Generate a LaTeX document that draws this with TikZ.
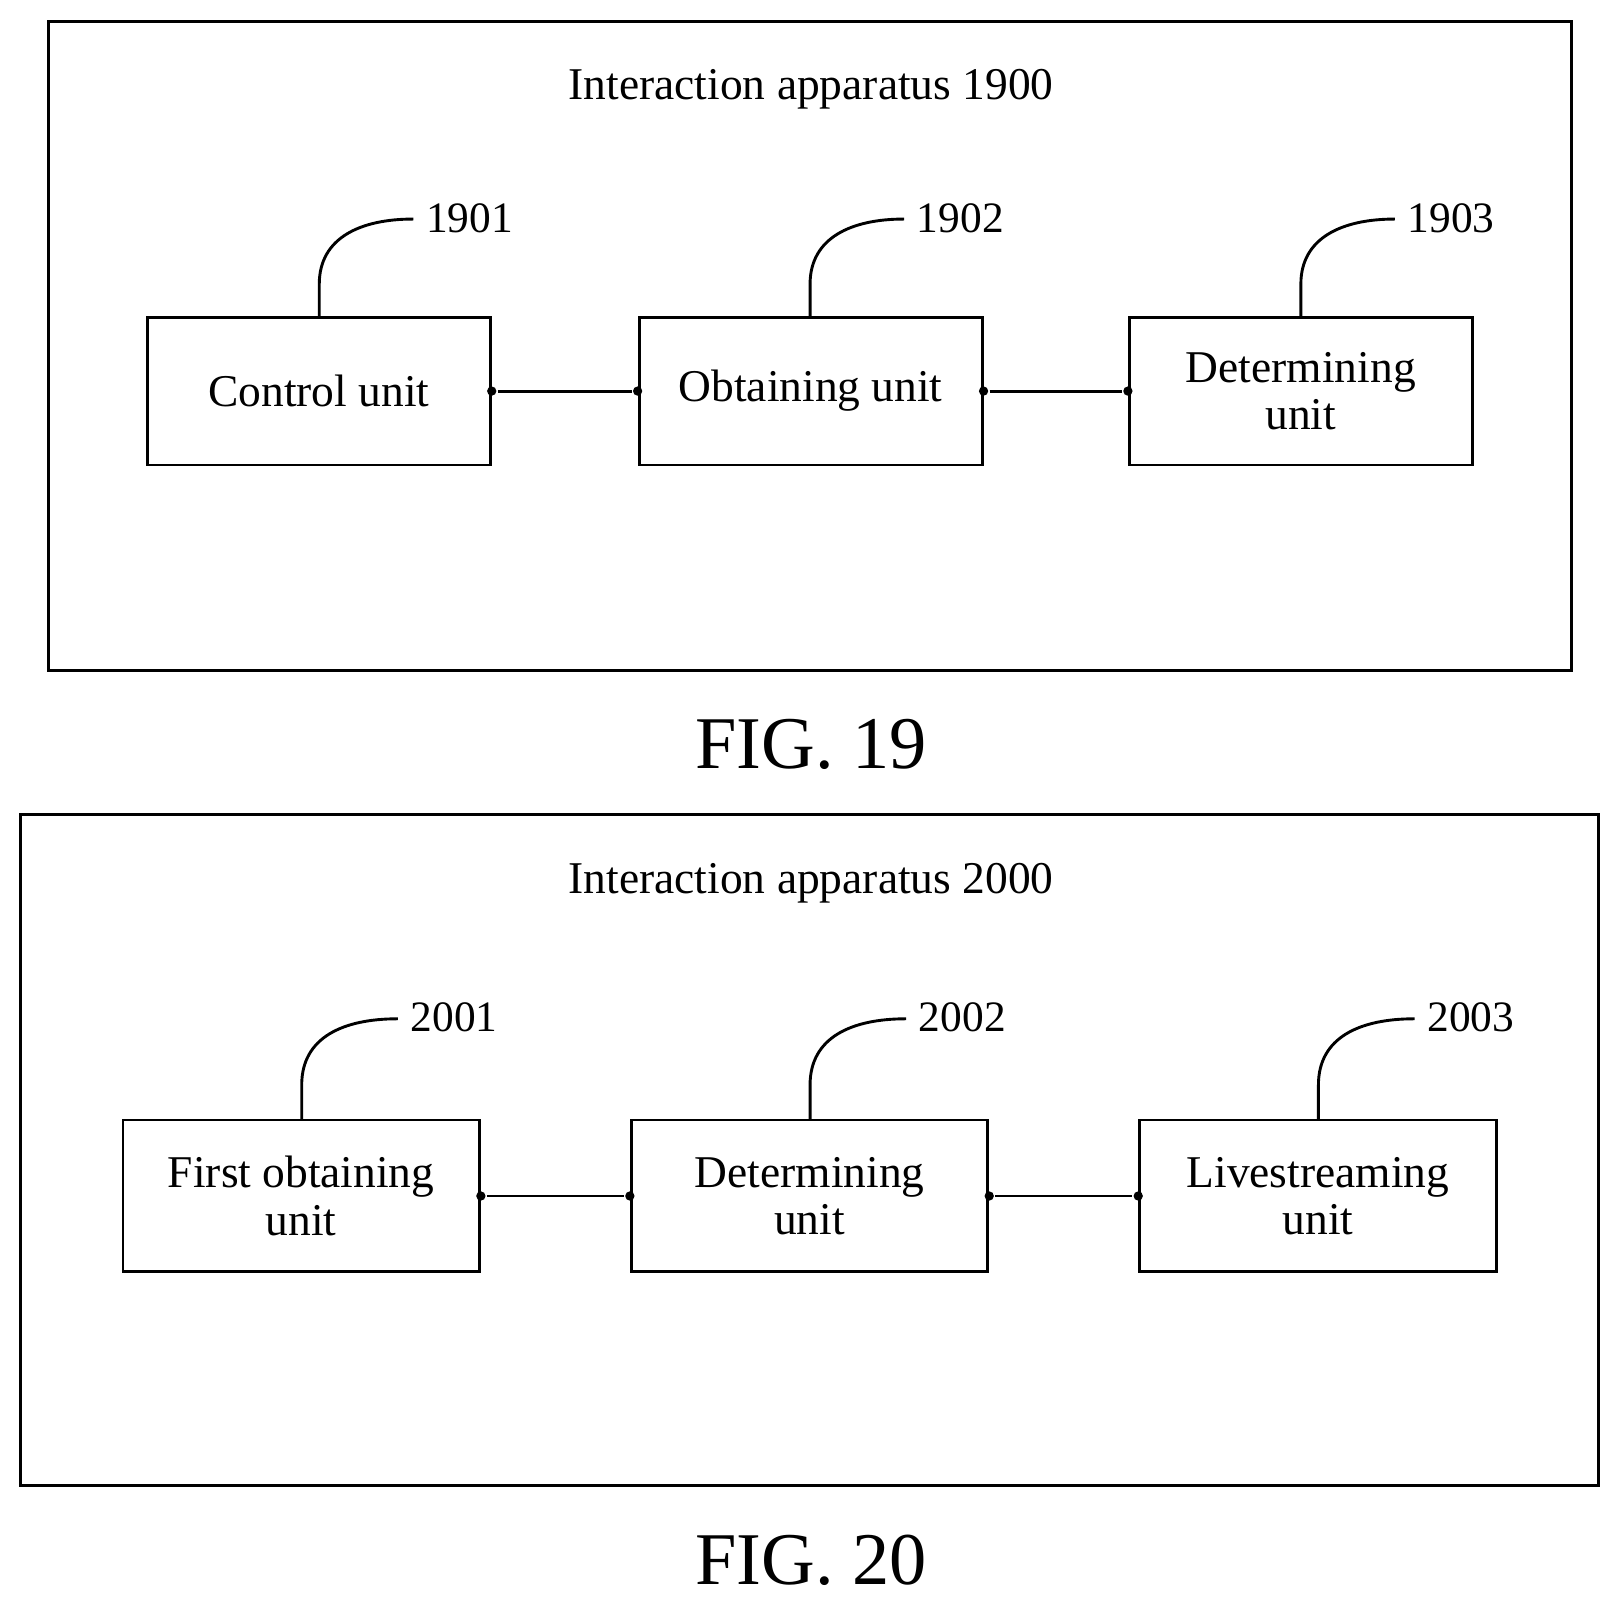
\documentclass[tikz,border=0pt]{standalone}
\usepackage{fontspec}
\setmainfont{Liberation Serif}
\begin{document}
\begin{tikzpicture}[x=0.5pt,y=-0.5pt,line width=1.4pt,
 unit/.style={draw,minimum width=166pt,minimum height=71.5pt,inner sep=0pt,align=center,font=\fontsize{22}{23}\selectfont},
 ttl/.style={font=\fontsize{22}{26}\selectfont},
 num/.style={font=\fontsize{21}{24}\selectfont,anchor=west,inner sep=1pt},
 fig/.style={font=\fontsize{36}{40}\selectfont},
 dot/.style={circle,fill,inner sep=0pt,minimum size=4.5pt}]
\useasboundingbox (0,0) rectangle (1564,1551);
% FIG 19
\node[draw,minimum width=737pt,minimum height=314pt,inner sep=0pt] (f19) at (784,335) {};
\node[ttl] (t19) at (785,86) {Interaction apparatus 1900};
\node[unit] (a1) at (308.5,378.5) {Control unit};
\node[unit] (a2) at (784.5,378.5) {Obtaining unit};
\node[unit] (a3) at (1259,378.5) {Determining\\unit};
\node[fig] (g19) at (785,720) {FIG. 19};
\foreach \n/\x/\l in {a1/309/1901,a2/784/1902,a3/1259/1903}{
  \coordinate (e\n) at (\x+91,212);
  \draw (\x,307) -- (\x,275) .. controls (\x,230) and (\x+40,212) .. (e\n);
  \node[num] at (\x+100,211) {\l};}
\node[dot] (d1) at (a1.east) {}; \node[dot] (d2) at (a2.west) {};
\node[dot] (d3) at (a2.east) {}; \node[dot] (d4) at (a3.west) {};
\draw (d1) -- (d2); \draw (d3) -- (d4);
% FIG 20
\node[draw,minimum width=763.5pt,minimum height=325pt,inner sep=0pt] (f20) at (783.5,1113) {};
\node[ttl] (t20) at (785,855) {Interaction apparatus 2000};
\node[unit,minimum width=172.5pt,minimum height=73.5pt] (b1) at (291.5,1157.5) {First obtaining\\unit};
\node[unit,minimum width=172.5pt,minimum height=73.5pt] (b2) at (783.5,1157.5) {Determining\\unit};
\node[unit,minimum width=172.5pt,minimum height=73.5pt] (b3) at (1275.5,1157.5) {Livestreaming\\unit};
\node[fig] (g20) at (785,1510) {FIG. 20};
\foreach \n/\x/\l in {b1/292/2001,b2/784/2002,b3/1276/2003}{
  \coordinate (e\n) at (\x+93,986);
  \draw (\x,1084) -- (\x,1050) .. controls (\x,1004) and (\x+40,986) .. (e\n);
  \node[num] at (\x+102,985) {\l};}
\node[dot] (c1) at (b1.east) {}; \node[dot] (c2) at (b2.west) {};
\node[dot] (c3) at (b2.east) {}; \node[dot] (c4) at (b3.west) {};
\draw (c1) -- (c2); \draw (c3) -- (c4);
\end{tikzpicture}
\end{document}
